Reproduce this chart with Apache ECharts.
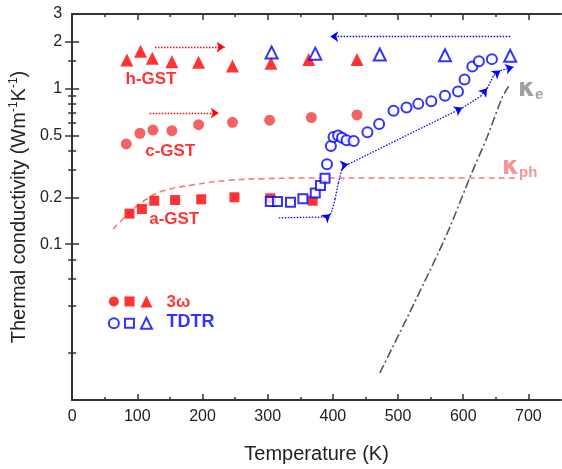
<!DOCTYPE html>
<html><head><meta charset="utf-8">
<script src="https://cdn.jsdelivr.net/npm/echarts@6/dist/echarts.min.js"></script>
<style>html,body{margin:0;padding:0;background:#fff}#c{width:562px;height:469px}</style>
</head><body><div id="c"></div>
<script>
// ---- axis ticks ----
const xLabelTicks = [0, 100, 200, 300, 400, 500, 600, 700];
const xMinorTicks = [50, 150, 250, 350, 450, 550, 650];
const yLabelTicks = [0.1, 0.2, 0.5, 1, 2, 3];
const yMajorTicks = [0.1, 0.2, 0.5, 1, 2];
const yMinorTicks = [0.02, 0.04, 0.06, 0.08, 0.3, 0.4, 0.6, 0.7, 0.8, 0.9, 1.5];

// ---- 3omega (filled, red) ----
const hGST_T = [84, 105, 123, 153, 194, 246, 305, 363, 437];
const hGST_V = [1.52, 1.73, 1.56, 1.48, 1.47, 1.39, 1.45, 1.53, 1.53];
const cGST_T = [83, 104, 124, 153, 194, 246, 303, 367, 437];
const cGST_V = [0.44, 0.515, 0.54, 0.535, 0.585, 0.605, 0.625, 0.65, 0.675];
const aGST_T = [88, 107, 126, 158, 198, 249, 304, 369];
const aGST_V = [0.157, 0.168, 0.19, 0.192, 0.194, 0.2, 0.197, 0.19];

// ---- TDTR (open, blue) ----
const tdtrTri_T = [306, 373, 472, 572, 672];
const tdtrTri_V = [1.70, 1.67, 1.65, 1.63, 1.62];
const tdtrCir_T = [391, 397, 401, 408, 414, 421, 432, 453, 471, 493, 513, 531, 551, 572, 592, 602, 614, 624, 644];
const tdtrCir_V = [0.326, 0.426, 0.487, 0.499, 0.482, 0.464, 0.459, 0.523, 0.59, 0.718, 0.753, 0.795, 0.827, 0.896, 0.955, 1.14, 1.38, 1.49, 1.54];
const tdtrSq_T = [304, 315, 335, 354, 373, 381, 388];
const tdtrSq_V = [0.188, 0.188, 0.186, 0.196, 0.213, 0.238, 0.265];

// ---- model curves ----
const kph_T = [63, 89, 114.5, 140, 190.5, 241, 292, 368, 682];
const kph_V = [0.125, 0.161, 0.195, 0.220, 0.242, 0.257, 0.263, 0.266, 0.266];
const ke_T = [472, 517.5, 560.7, 581, 611, 636.7, 659.5, 669.6];
const ke_V = [0.0149, 0.0362, 0.0861, 0.133, 0.273, 0.487, 0.867, 1.03];

// ---- arrows (heating/cooling paths) ----
const redArrowH_T = [127, 234]; const redArrowH_V = [1.84, 1.84];
const redArrowC_T = [119, 225]; const redArrowC_V = [0.695, 0.695];
const blueTopArrow_T = [672, 396]; const blueTopArrow_V = [2.15, 2.15];
const bluePath_T = [317, 391, 396, 398, 403.4, 408.5, 413.6, 418.6, 423.8, 598.7, 626.5, 636.7, 646.8, 657, 677];
const bluePath_V = [0.1475, 0.1496, 0.1556, 0.161, 0.195, 0.248, 0.301, 0.323, 0.326, 0.75, 0.888, 1.0, 1.21, 1.30, 1.37];
const bluePathArrowAt = [2, 8, 9, 11, 13, 14];

// ---- text annotations ----
const sampleLabels = ['h-GST', 'c-GST', 'a-GST'];
const sampleLabel_T = [121, 150.5, 156.6];
const sampleLabel_V = [1.14, 0.392, 0.145];
const legendTexts = ['3ω', 'TDTR'];
const legendText_T = [144.9, 144.9];
const legendText_V = [0.0421, 0.0316];
const legendSym_T = [64, 88, 114];
const legendRed_V = 0.0429;
const legendBlue_V = 0.0311;
const kappaLabels = ['e', 'ph'];
const kappaLabel_T = [684, 659.5];
const kappaLabel_V = [0.973, 0.309];

const RED = '#ff0000', RED2 = '#f03c3c', BLUE = '#0000ff', SALMON = '#f47a7a', GREY = '#555555';
const zip = (a, b) => a.map((v, i) => [v, b[i]]);

function arrowSeg(t, v) {
  return [{coord: [t[0], v[0]], symbol: 'none'}, {coord: [t[1], v[1]], symbol: 'arrow'}];
}
const bluePathSegs = [];
for (let i = 0; i < bluePath_T.length - 1; i++) {
  bluePathSegs.push([
    {coord: [bluePath_T[i], bluePath_V[i]], symbol: 'none'},
    {coord: [bluePath_T[i + 1], bluePath_V[i + 1]], symbol: bluePathArrowAt.includes(i + 1) ? 'arrow' : 'none'}
  ]);
}

const axisCol = '#333';
const FONT = 'Liberation Sans, Arial';
const xBase = {type: 'value', min: 0, max: 750, gridIndex: 0};
const yBase = {type: 'log', logBase: 10, min: 0.01, max: 3, gridIndex: 0};
const noLabel = {show: false};
const noSplit = {show: false};

const chart = echarts.init(document.getElementById('c'), null, {renderer: 'canvas'});
chart.setOption({
  animation: false,
  backgroundColor: '#fff',
  grid: {left: 68, top: 14, width: 493, height: 395, containLabel: false},
  xAxis: [
    Object.assign({}, xBase, {
      position: 'bottom',
      name: 'Temperature (K)', nameLocation: 'middle', nameGap: 44,
      nameTextStyle: {fontSize: 20, color: '#222', fontFamily: FONT},
      axisLine: {show: true, lineStyle: {color: axisCol, width: 2}},
      axisTick: {show: true, inside: true, length: 6, lineStyle: {color: axisCol, width: 1.5}, customValues: xLabelTicks},
      axisLabel: {show: true, fontSize: 16, color: '#222', margin: 9, fontFamily: FONT, customValues: xLabelTicks},
      splitLine: noSplit
    }),
    Object.assign({}, xBase, {
      position: 'bottom',
      axisLine: {show: false},
      axisTick: {show: true, inside: true, length: 3, lineStyle: {color: axisCol, width: 1.5}, customValues: xMinorTicks},
      axisLabel: noLabel, splitLine: noSplit
    }),
    Object.assign({}, xBase, {
      position: 'top',
      axisLine: {show: true, lineStyle: {color: axisCol, width: 2}},
      axisTick: {show: true, inside: true, length: 6, lineStyle: {color: axisCol, width: 1.5}, customValues: xLabelTicks},
      axisLabel: noLabel, splitLine: noSplit
    }),
    Object.assign({}, xBase, {
      position: 'top',
      axisLine: {show: false},
      axisTick: {show: true, inside: true, length: 3, lineStyle: {color: axisCol, width: 1.5}, customValues: xMinorTicks},
      axisLabel: noLabel, splitLine: noSplit
    })
  ],
  yAxis: [
    Object.assign({}, yBase, {
      position: 'left',
      name: 'Thermal conductivity (Wm{s|-1}K{s|-1})', nameLocation: 'middle', nameGap: 41, nameRotate: 90,
      nameTextStyle: {fontSize: 20, color: '#222', fontFamily: FONT,
        rich: {s: {fontSize: 12, color: '#222', verticalAlign: 'top', padding: [0, 0, 10, 0], fontFamily: FONT}}},
      axisLine: {show: true, lineStyle: {color: axisCol, width: 2}},
      axisTick: {show: true, inside: true, length: 7, lineStyle: {color: axisCol, width: 1.5}, customValues: yMajorTicks},
      axisLabel: {show: true, fontSize: 16, color: '#222', margin: 10, fontFamily: FONT, customValues: yLabelTicks,
        formatter: v => String(+(+v).toPrecision(3))},
      splitLine: noSplit
    }),
    Object.assign({}, yBase, {
      position: 'left',
      axisLine: {show: false},
      axisTick: {show: true, inside: true, length: 4, lineStyle: {color: axisCol, width: 1.5}, customValues: yMinorTicks},
      axisLabel: noLabel, splitLine: noSplit
    }),
    Object.assign({}, yBase, {
      position: 'right',
      axisLine: {show: true, lineStyle: {color: axisCol, width: 2}},
      axisTick: {show: true, inside: true, length: 7, lineStyle: {color: axisCol, width: 1.5}, customValues: yMajorTicks},
      axisLabel: noLabel, splitLine: noSplit
    }),
    Object.assign({}, yBase, {
      position: 'right',
      axisLine: {show: false},
      axisTick: {show: true, inside: true, length: 4, lineStyle: {color: axisCol, width: 1.5}, customValues: yMinorTicks},
      axisLabel: noLabel, splitLine: noSplit
    })
  ],
  series: [
    {type: 'line', data: zip(kph_T, kph_V), smooth: 0.4, symbol: 'none', silent: true,
      lineStyle: {color: SALMON, width: 1.6, type: [6, 4]}, z: 1},
    {type: 'line', data: zip(ke_T, ke_V), smooth: 0.3, symbol: 'none', silent: true,
      lineStyle: {color: GREY, width: 1.6, type: [9, 3, 2, 3]}, z: 1},
    {type: 'line', data: [], silent: true,
      markLine: {silent: true, symbolSize: 8, label: {show: false},
        lineStyle: {color: RED, width: 1.3, type: [1.5, 1.5]},
        data: [arrowSeg(redArrowH_T, redArrowH_V), arrowSeg(redArrowC_T, redArrowC_V)]}},
    {type: 'line', data: [], silent: true,
      markLine: {silent: true, symbolSize: 8, label: {show: false},
        lineStyle: {color: BLUE, width: 1.3, type: [1.5, 1.5]},
        data: [arrowSeg(blueTopArrow_T, blueTopArrow_V)].concat(bluePathSegs)}},
    {type: 'scatter', data: zip(cGST_T, cGST_V), symbol: 'circle', symbolSize: 11, itemStyle: {color: RED2}, z: 3},
    {type: 'scatter', data: zip(aGST_T, aGST_V), symbol: 'rect', symbolSize: 10, itemStyle: {color: RED}, z: 3},
    {type: 'scatter', data: zip(hGST_T, hGST_V), symbol: 'triangle', symbolSize: 13, itemStyle: {color: RED}, z: 3},
    {type: 'scatter', data: zip(tdtrCir_T, tdtrCir_V), symbol: 'emptyCircle', symbolSize: 10,
      itemStyle: {color: BLUE, borderColor: BLUE, borderWidth: 2}, z: 4},
    {type: 'scatter', data: zip(tdtrSq_T, tdtrSq_V), symbol: 'emptyRect', symbolSize: 9,
      itemStyle: {color: BLUE, borderColor: BLUE, borderWidth: 2}, z: 4},
    {type: 'scatter', data: zip(tdtrTri_T, tdtrTri_V), symbol: 'emptyTriangle', symbolSize: 12,
      itemStyle: {color: BLUE, borderColor: BLUE, borderWidth: 2}, z: 4},
    {type: 'scatter', data: [[legendSym_T[0], legendRed_V]], symbol: 'circle', symbolSize: 10, itemStyle: {color: RED}},
    {type: 'scatter', data: [[legendSym_T[1], legendRed_V]], symbol: 'rect', symbolSize: 10, itemStyle: {color: RED}},
    {type: 'scatter', data: [[legendSym_T[2], legendRed_V]], symbol: 'triangle', symbolSize: 12, itemStyle: {color: RED}},
    {type: 'scatter', data: [[legendSym_T[0], legendBlue_V]], symbol: 'emptyCircle', symbolSize: 10, itemStyle: {color: BLUE, borderColor: BLUE, borderWidth: 2}},
    {type: 'scatter', data: [[legendSym_T[1], legendBlue_V]], symbol: 'emptyRect', symbolSize: 9, itemStyle: {color: BLUE, borderColor: BLUE, borderWidth: 2}},
    {type: 'scatter', data: [[legendSym_T[2], legendBlue_V]], symbol: 'emptyTriangle', symbolSize: 11, itemStyle: {color: BLUE, borderColor: BLUE, borderWidth: 2}},
    {type: 'scatter', symbolSize: 0, silent: true, z: 5,
      data: sampleLabels.map((s, i) => ({value: [sampleLabel_T[i], sampleLabel_V[i]], name: s})),
      label: {show: true, position: 'inside', formatter: p => p.name, color: RED, fontSize: 17, fontWeight: 'bold', fontFamily: FONT}},
    {type: 'scatter', symbolSize: 0, silent: true, z: 5,
      data: [
        {value: [legendText_T[0], legendText_V[0]], name: legendTexts[0], label: {color: RED, fontSize: 17}},
        {value: [legendText_T[1], legendText_V[1]], name: legendTexts[1], label: {color: BLUE, fontSize: 18}}
      ],
      label: {show: true, position: 'right', distance: 0, formatter: p => p.name, fontWeight: 'bold', fontFamily: FONT}},
    {type: 'scatter', symbolSize: 0, silent: true, z: 5,
      data: [
        {value: [kappaLabel_T[0], kappaLabel_V[0]], name: kappaLabels[0], label: {color: '#8a8a8a'}},
        {value: [kappaLabel_T[1], kappaLabel_V[1]], name: kappaLabels[1], label: {color: SALMON}}
      ],
      label: {show: true, position: 'right', distance: 0, fontFamily: 'DejaVu Sans, Liberation Sans',
        formatter: p => '{k|κ}{s|' + p.name + '}',
        rich: {k: {fontSize: 24, fontWeight: 'bold', fontFamily: 'DejaVu Sans'}, s: {fontSize: 15, fontWeight: 'bold', fontFamily: FONT, verticalAlign: 'bottom', padding: [10, 0, 0, 0]}}}}
  ]
});
</script></body></html>
